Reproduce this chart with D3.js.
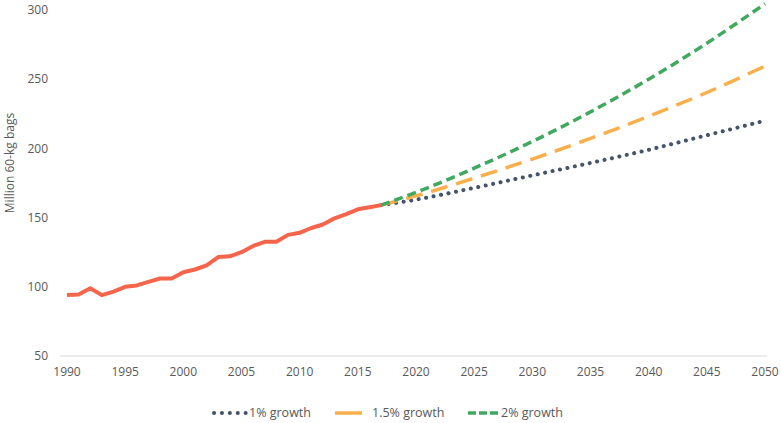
<!DOCTYPE html>
<html>
<head>
<meta charset="utf-8">
<script src="https://cdn.jsdelivr.net/npm/d3@7"></script>
<style>
  body { margin: 0; background: #fff; }
  svg { display: block; font-family: "Open Sans", sans-serif; }
</style>
</head>
<body>
<svg width="781" height="423"></svg>
<script>
const histYears = [1990, 1991, 1992, 1993, 1994, 1995, 1996, 1997, 1998, 1999,
  2000, 2001, 2002, 2003, 2004, 2005, 2006, 2007, 2008, 2009,
  2010, 2011, 2012, 2013, 2014, 2015, 2016, 2017];
const histValues = [94, 94.5, 99, 94, 96.5, 100, 101, 103.5, 106, 106,
  110.5, 112.5, 115.5, 121.5, 122, 125, 129.5, 132.5, 132.5, 137.5,
  139, 142.5, 145, 149.5, 152.5, 156, 157.5, 159];

const projYears = [2017, 2020, 2025, 2030, 2035, 2040, 2045, 2050];
const growth1 = [159, 163, 171.5, 180.5, 189.5, 199, 209.5, 220];
const growth15 = [159, 165.7, 178.5, 192.3, 207.2, 223.2, 240.4, 259.5];
const growth2 = [159, 168.2, 185.7, 205, 226.4, 250, 276, 304.5];

const seriesNames = ['1% growth', '1.5% growth', '2% growth'];
const yTicks = [50, 100, 150, 200, 250, 300];
const xTicks = d3.range(1990, 2051, 5);

const svg = d3.select('svg');
const x = d3.scaleLinear().domain([1990, 2050]).range([67, 765]);
const y = d3.scaleLinear().domain([50, 300]).range([356, 10]);
const grey = '#595959';

// baseline
svg.append('line')
  .attr('x1', 60).attr('x2', 767)
  .attr('y1', y(50)).attr('y2', y(50))
  .attr('stroke', '#d9d9d9').attr('stroke-width', 1);

// y axis labels
svg.append('g')
  .selectAll('text')
  .data(yTicks)
  .enter()
  .append('text')
  .attr('x', 48)
  .attr('y', (d) => y(d))
  .attr('dy', '0.35em')
  .attr('text-anchor', 'end')
  .attr('font-size', 12)
  .attr('fill', grey)
  .text((d) => d);

// x axis labels
svg.append('g')
  .selectAll('text')
  .data(xTicks)
  .enter()
  .append('text')
  .attr('x', (d) => x(d))
  .attr('y', 376)
  .attr('text-anchor', 'middle')
  .attr('font-size', 12)
  .attr('fill', grey)
  .text((d) => d);

svg.append('text')
  .attr('transform', 'translate(14,163) rotate(-90)')
  .attr('text-anchor', 'middle')
  .attr('font-size', 12)
  .attr('fill', grey)
  .text('Million 60-kg bags');

const line = d3.line()
  .x((d) => x(d[0]))
  .y((d) => y(d[1]));
const smooth = d3.line()
  .x((d) => x(d[0]))
  .y((d) => y(d[1]))
  .curve(d3.curveMonotoneX);

const styles = [
  {color: '#44546a', dash: '0.1 7.5', cap: 'round', width: 4, values: growth1},
  {color: '#f9b04c', dash: '17 9', cap: 'butt', width: 3.5, values: growth15},
  {color: '#41a85f', dash: '9 5', cap: 'butt', width: 3.5, values: growth2},
];

// projections
styles.forEach((s) => {
  svg.append('path')
    .datum(projYears.map((yr, i) => [yr, s.values[i]]))
    .attr('d', smooth)
    .attr('fill', 'none')
    .attr('stroke', s.color)
    .attr('stroke-width', s.width)
    .attr('stroke-dasharray', s.dash)
    .attr('stroke-linecap', s.cap);
});

// historical
svg.append('path')
  .datum(histYears.map((yr, i) => [yr, histValues[i]]))
  .attr('d', line)
  .attr('fill', 'none')
  .attr('stroke', '#f4654c')
  .attr('stroke-width', 4)
  .attr('stroke-linejoin', 'round');

// legend
const legendItems = [
  {x1: 214, x2: 246, tx: 249},
  {x1: 335, x2: 362, tx: 372},
  {x1: 468, x2: 498, tx: 501},
];
const legend = svg.append('g');
styles.forEach((s, i) => {
  const it = legendItems[i];
  legend.append('line')
    .attr('x1', it.x1).attr('x2', it.x2)
    .attr('y1', 413).attr('y2', 413)
    .attr('stroke', s.color)
    .attr('stroke-width', s.width)
    .attr('stroke-dasharray', i === 1 ? null : (i === 0 ? '0.1 7.8' : '8 3'))
    .attr('stroke-linecap', s.cap);
  legend.append('text')
    .attr('x', it.tx)
    .attr('y', 413)
    .attr('dy', '0.35em')
    .attr('font-size', 12.5)
    .attr('fill', grey)
    .text(seriesNames[i]);
});
</script>
</body>
</html>
